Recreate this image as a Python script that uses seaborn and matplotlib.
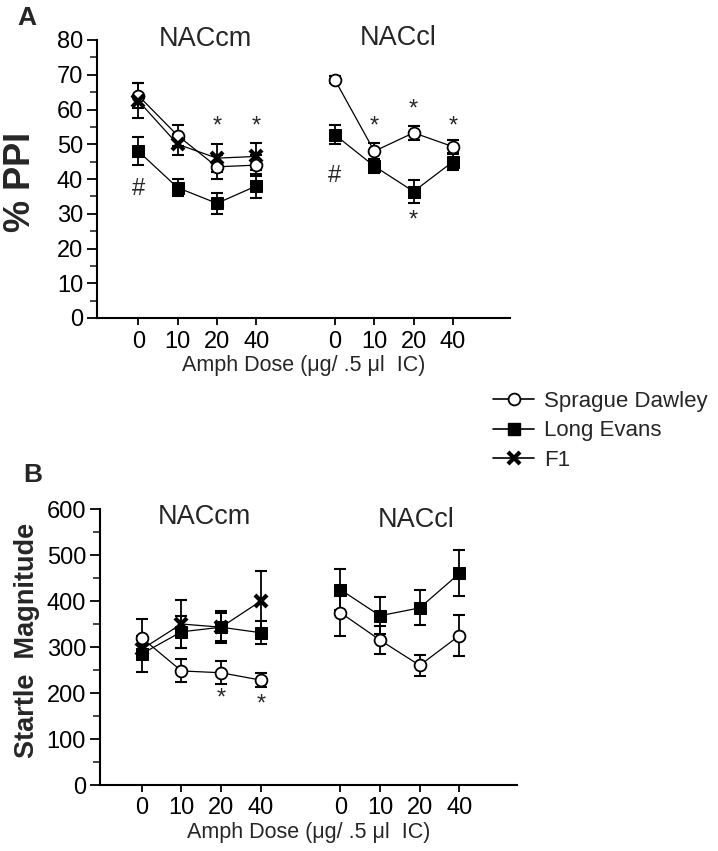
import pandas as pd
import seaborn as sns
import matplotlib.pyplot as plt
from matplotlib.ticker import MultipleLocator
from matplotlib.lines import Line2D

# dose labels and plotting slots (two brain regions side by side)
doses = ['0', '10', '20', '40']
regions = ['NACcm', 'NACcl']
cm_pos = [0, 1, 2, 3]
cl_pos = [5, 6, 7, 8]

# Panel A: % PPI (mean, sem)
ppi_sd_cm = [64, 52.5, 43.5, 44]
ppi_sd_cm_err = [3.5, 3, 3.5, 3]
ppi_le_cm = [48, 37.5, 33, 38]
ppi_le_cm_err = [4, 2.5, 3, 3.5]
ppi_f1_cm = [62.5, 50, 46, 46.5]
ppi_f1_cm_err = [5, 3, 4, 4]
ppi_sd_cl = [68.5, 48, 53.3, 49.3]
ppi_sd_cl_err = [1, 2.5, 2, 2]
ppi_le_cl = [52.7, 43.7, 36.4, 45]
ppi_le_cl_err = [2.7, 2, 3.3, 2.5]

# Panel B: startle magnitude (mean, sem)
st_sd_cm = [320, 248, 244, 228]
st_sd_cm_err = [40, 25, 25, 15]
st_le_cm = [285, 333, 343, 331]
st_le_cm_err = [40, 35, 35, 25]
st_f1_cm = [295, 350, 343, 400]
st_f1_cm_err = [20, 52, 30, 65]
st_sd_cl = [375, 315, 260, 325]
st_sd_cl_err = [50, 30, 22, 45]
st_le_cl = [425, 368, 385, 460]
st_le_cl_err = [45, 40, 38, 50]

# significance marks: (slot, y, symbol)
ppi_marks = [(2, 55, '*'), (3, 55, '*'), (6, 55, '*'), (7, 60, '*'), (8, 55, '*'),
             (7, 28, '*'), (0, 37, '#'), (5, 41, '#')]
st_marks = [(2, 188, '*'), (3, 175, '*')]

W, H = 718, 851
fig = plt.figure(figsize=(W / 100, H / 100), dpi=100)
sns.set_style('ticks')
plt.rcParams['font.family'] = ['Liberation Sans', 'DejaVu Sans']

styles = {
    'Sprague Dawley': dict(marker='o', markerfacecolor='white', markeredgecolor='black',
                           markersize=8.5, markeredgewidth=1.3, zorder=4),
    'Long Evans': dict(marker='s', markerfacecolor='black', markeredgecolor='black',
                       markersize=9, zorder=3),
    'F1': dict(marker='x', markeredgecolor='black', markersize=8.5, markeredgewidth=3, zorder=5),
}


def draw(ax, pos, vals, errs, strain):
    df = pd.DataFrame({'x': pos, 'y': vals})
    sns.lineplot(data=df, x='x', y='y', color='black', linewidth=0.9, ax=ax,
                 legend=False, **styles[strain])
    ax.errorbar(pos, vals, yerr=errs, fmt='none', ecolor='black', elinewidth=1.3,
                capsize=4, capthick=1.5, zorder=2)


def style_axis(ax, ymax, major, minor):
    ax.set_xlim(-1.05, 9.45)
    ax.set_ylim(0, ymax)
    ax.set_xticks(cm_pos + cl_pos)
    ax.set_xticklabels(doses + doses)
    ax.yaxis.set_major_locator(MultipleLocator(major))
    ax.yaxis.set_minor_locator(MultipleLocator(minor))
    ax.tick_params(axis='both', which='major', labelsize=17, length=7, width=1.3, colors='black')
    ax.tick_params(axis='y', which='minor', length=5, width=1.2)
    ax.tick_params(axis='x', length=5, pad=4)
    ax.tick_params(axis='y', pad=3)
    for s in ['left', 'bottom']:
        ax.spines[s].set_linewidth(1.5)
        ax.spines[s].set_color('black')
    sns.despine(ax=ax)
    ax.set_xlabel('Amph Dose (\u03bcg/ .5 \u03bcl  IC)', fontsize=15.5, labelpad=2)
    ax.set_ylabel('')


# Panel A
axA = fig.add_axes([97 / W, 1 - 318 / H, 413 / W, 278 / H])
draw(axA, cm_pos, ppi_sd_cm, ppi_sd_cm_err, 'Sprague Dawley')
draw(axA, cm_pos, ppi_le_cm, ppi_le_cm_err, 'Long Evans')
draw(axA, cm_pos, ppi_f1_cm, ppi_f1_cm_err, 'F1')
draw(axA, cl_pos, ppi_sd_cl, ppi_sd_cl_err, 'Sprague Dawley')
draw(axA, cl_pos, ppi_le_cl, ppi_le_cl_err, 'Long Evans')
style_axis(axA, 80, 10, 5)
for x, y, s in ppi_marks:
    axA.text(x, y, s, ha='center', va='center', fontsize=17 if s == '*' else 17)
axA.text(1.7, 80.3, regions[0], ha='center', va='center', fontsize=19.5, clip_on=False)
axA.text(6.6, 80.6, regions[1], ha='center', va='center', fontsize=19.5, clip_on=False)

# Panel B
axB = fig.add_axes([100 / W, 1 - 785 / H, 417 / W, 276 / H])
draw(axB, cm_pos, st_sd_cm, st_sd_cm_err, 'Sprague Dawley')
draw(axB, cm_pos, st_le_cm, st_le_cm_err, 'Long Evans')
draw(axB, cm_pos, st_f1_cm, st_f1_cm_err, 'F1')
draw(axB, cl_pos, st_sd_cl, st_sd_cl_err, 'Sprague Dawley')
draw(axB, cl_pos, st_le_cl, st_le_cl_err, 'Long Evans')
style_axis(axB, 600, 100, 50)
for x, y, s in st_marks:
    axB.text(x, y, s, ha='center', va='center', fontsize=17)
axB.text(1.57, 583, regions[0], ha='center', va='center', fontsize=19.5)
axB.text(6.9, 576, regions[1], ha='center', va='center', fontsize=19.5)

# y labels and panel letters
fig.text(21 / W, 1 - 182 / H, '% PPI', rotation=90, ha='center', va='center',
         fontsize=26, fontweight='bold')
fig.text(27 / W, 1 - 640 / H, 'Startle  Magnitude', rotation=90, ha='center', va='center',
         fontsize=19.5, fontweight='bold')
fig.text(17 / W, 1 - 6 / H, 'A', ha='left', va='top', fontsize=19, fontweight='bold')
fig.text(23 / W, 1 - 463 / H, 'B', ha='left', va='top', fontsize=19, fontweight='bold')

# legend
handles = [Line2D([], [], color='black', linewidth=1.2, **{k: v for k, v in st.items() if k != 'zorder'})
           for st in styles.values()]
fig.legend(handles, list(styles.keys()), loc='upper left', bbox_to_anchor=(493 / W, 1 - 391 / H),
           frameon=False, fontsize=16, handlelength=1.85, handletextpad=0.45,
           labelspacing=0.38, borderpad=0, borderaxespad=0)

fig.savefig('out.png', dpi=100)
